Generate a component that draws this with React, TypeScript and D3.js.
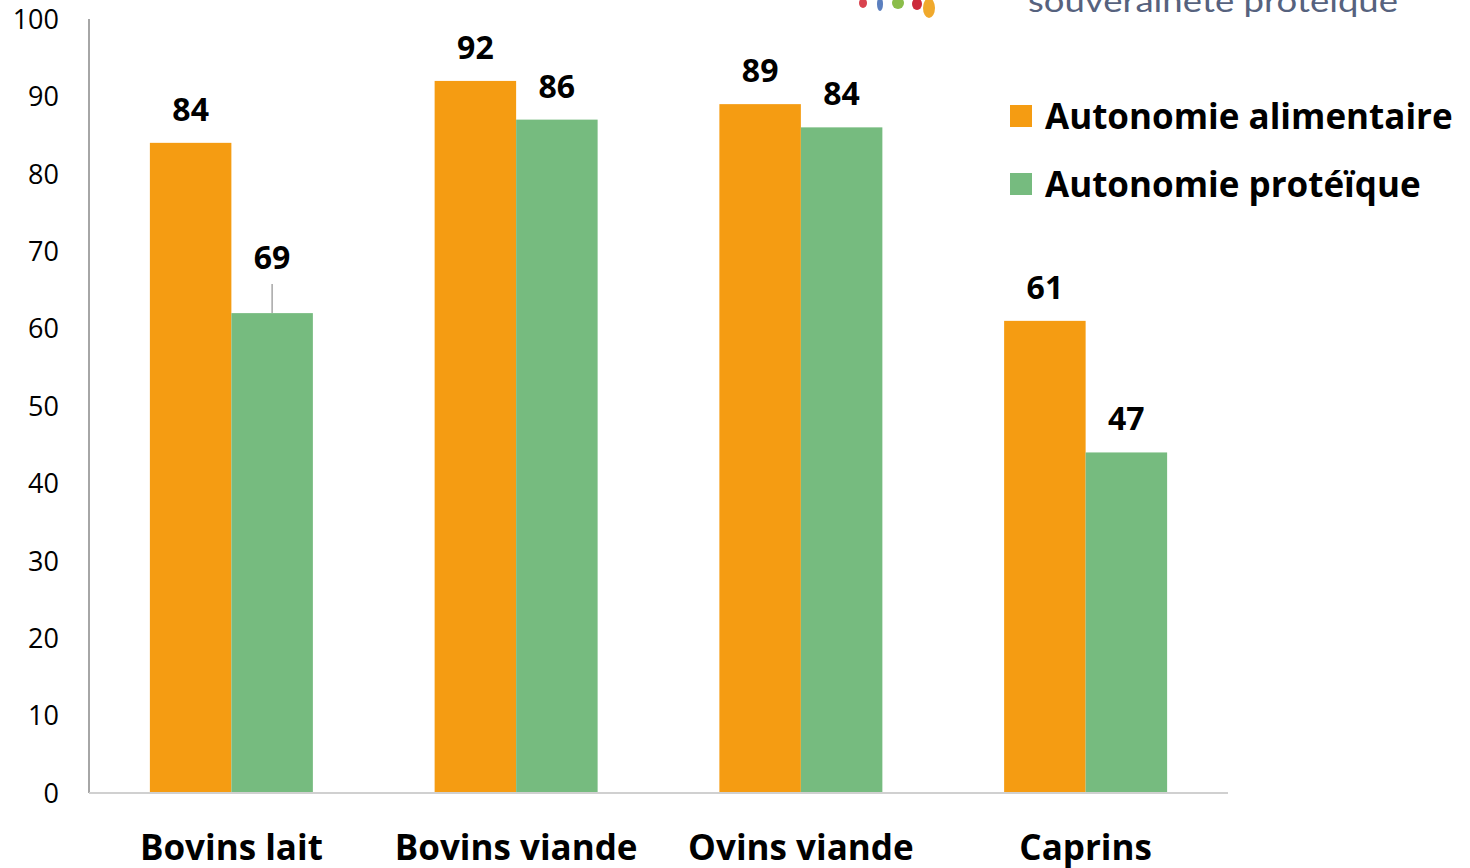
import React from "react";
import * as d3 from "d3";

const categories = ["Bovins lait", "Bovins viande", "Ovins viande", "Caprins"];
const seriesNames = ["Autonomie alimentaire", "Autonomie protéïque"];
const alimentaire = [84, 92, 89, 61];
const proteique = [62, 87, 86, 44];
const alimentaireLabels = ["84", "92", "89", "61"];
const proteiqueLabels = ["69", "86", "84", "47"];
const yTicks = [0, 10, 20, 30, 40, 50, 60, 70, 80, 90, 100];
const colors = ["#F59C12", "#76BB7F"];

const W = 1470;
const H = 868;
const FONT = "'Open Sans', 'Noto Sans', sans-serif";

export default function App() {
  const x0 = 89;
  const x1 = 1228;
  const yBase = 793;
  const yTop = 19;
  const pi = 0.4276;
  const x = d3.scaleBand<string>().domain(categories).range([x0, x1]).paddingInner(pi).paddingOuter(pi / 2);
  const xs = d3.scaleBand<number>().domain([0, 1]).range([0, x.bandwidth()]);
  const y = d3.scaleLinear().domain([0, 100]).range([yBase, yTop]);

  const series = [
    { values: alimentaire, labels: alimentaireLabels },
    { values: proteique, labels: proteiqueLabels },
  ];
  // label offset above bar top (leader line for the displaced label)
  const labelShift = [
    [0, 0, 0, 0],
    [22, 0, 0, 0],
  ];

  return (
    <svg width={W} height={H} style={{ position: "absolute", left: 0, top: 0, background: "#fff" }} fontFamily={FONT}>
      {/* logo fragment */}
      <g>
        <ellipse cx={863} cy={3} rx={4} ry={5} fill="#d9434f" />
        <ellipse cx={880} cy={4} rx={3} ry={7} fill="#5b7fbf" />
        <ellipse cx={898} cy={3} rx={6} ry={6} fill="#8bbd4a" />
        <ellipse cx={917} cy={4} rx={5} ry={6} fill="#cc2b3b" />
        <ellipse cx={929} cy={8} rx={6} ry={10} fill="#f0a92c" />
      </g>
      <text x={1028} y={12} fontSize={31} fill="#56627e" textLength={370} lengthAdjust="spacingAndGlyphs" fontFamily="Lato, 'Open Sans', sans-serif">
        souveraineté protéique
      </text>

      {/* y tick labels */}
      {yTicks.map((t) => (
        <text key={t} x={59} y={y(t)} dy="0.36em" textAnchor="end" fontSize={27} fill="#000">
          {t}
        </text>
      ))}

      {/* bars */}
      {categories.map((c, i) => (
        <g key={c} transform={`translate(${x(c)},0)`}>
          {series.map((s, si) => (
            <rect
              key={si}
              x={xs(si)}
              y={y(s.values[i])}
              width={xs.bandwidth()}
              height={yBase - y(s.values[i])}
              fill={colors[si]}
            />
          ))}
        </g>
      ))}

      {/* axes */}
      <line x1={x0} x2={x0} y1={yTop} y2={yBase} stroke="#a6a6a6" strokeWidth={2} />
      <line x1={x0} x2={x1} y1={yBase} y2={yBase} stroke="#d0d0d0" strokeWidth={2} />

      {/* data labels */}
      {categories.map((c, i) =>
        series.map((s, si) => {
          const cx = (x(c) as number) + (xs(si) as number) + xs.bandwidth() / 2;
          const top = y(s.values[i]);
          const shift = labelShift[si][i];
          const ty = top - 22 - shift;
          return (
            <g key={`${c}-${si}`}>
              {shift > 0 && (
                <line x1={cx} x2={cx} y1={top - 29} y2={top} stroke="#a6a6a6" strokeWidth={1.5} />
              )}
              <text x={cx} y={ty} textAnchor="middle" fontSize={32} fontWeight="bold" fill="#000">
                {s.labels[i]}
              </text>
            </g>
          );
        })
      )}

      {/* category labels */}
      {categories.map((c) => (
        <text key={c} x={(x(c) as number) + x.bandwidth() / 2} y={860} textAnchor="middle" fontSize={35} fontWeight="bold" fill="#000">
          {c}
        </text>
      ))}

      {/* legend */}
      {seriesNames.map((n, i) => (
        <g key={n} transform={`translate(1010,${105 + i * 68})`}>
          <rect x={0} y={0} width={22} height={22} fill={colors[i]} />
          <text x={35} y={11} dy="0.36em" fontSize={35} fontWeight="bold" fill="#000">
            {n}
          </text>
        </g>
      ))}
    </svg>
  );
}
